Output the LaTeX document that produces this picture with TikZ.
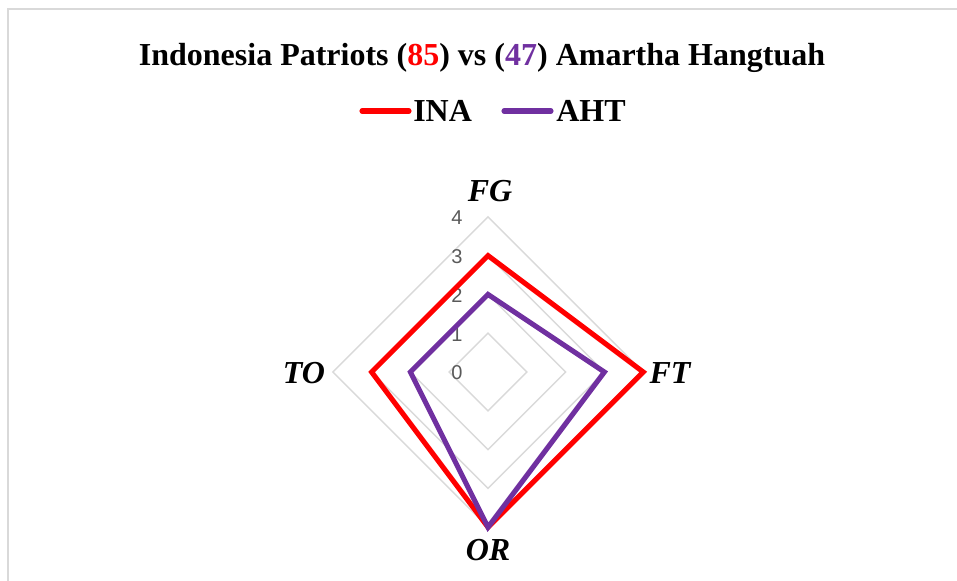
\documentclass[tikz,border=0pt]{standalone}
\usepackage{fontspec}
\usetikzlibrary{calc}
\setmainfont{Liberation Serif}
\setsansfont{Liberation Sans}
\definecolor{inared}{HTML}{FF0000}
\definecolor{ahtpurple}{HTML}{7030A0}
\definecolor{gridgray}{HTML}{D9D9D9}
\definecolor{ticktext}{HTML}{595959}
\begin{document}
\begin{tikzpicture}[x=0.75pt,y=-0.75pt,
  gridline/.style={draw=gridgray,line width=1.1pt},
  serieslineina/.style={draw=inared,line width=3.8pt,line join=miter},
  serieslineaht/.style={draw=ahtpurple,line width=3.8pt,line join=miter},
  legline/.style={line width=3.8pt,line cap=round},
  axislabel/.style={font=\fontsize{24}{27}\selectfont\bfseries\itshape},
  ticklabel/.style={font=\sffamily\fontsize{15}{17}\selectfont,text=ticktext,anchor=center},
  titletext/.style={font=\fontsize{24}{27}\selectfont\bfseries}]
\useasboundingbox (0,0) rectangle (957,581);
% outer frame
\draw[draw=gridgray,line width=1.1pt] (8,600) -- (8,9) -- (980,9);
% center and unit
\def\u{38.8}
\coordinate (c) at (488,372);
% grid rings
\foreach \r in {1,2,3,4}{
  \draw[gridline] ($(c)+(0,-\r*\u)$) -- ($(c)+(\r*\u,0)$) -- ($(c)+(0,\r*\u)$) -- ($(c)+(-\r*\u,0)$) -- cycle;
}
% tick labels
\foreach \r in {0,1,2,3,4}{
  \node[ticklabel] (t\r) at ($(c)+(-31,-\r*\u+1)$) {\r};
}
% series
\coordinate (iFG) at ($(c)+(0,-3*\u)$);
\coordinate (iFT) at ($(c)+(4*\u,0)$);
\coordinate (iOR) at ($(c)+(0,4*\u)$);
\coordinate (iTO) at ($(c)+(-3*\u,0)$);
\coordinate (aFG) at ($(c)+(0,-2*\u)$);
\coordinate (aFT) at ($(c)+(3*\u,0)$);
\coordinate (aOR) at ($(c)+(0,4*\u)$);
\coordinate (aTO) at ($(c)+(-2*\u,0)$);
\draw[serieslineina] (iFG) -- (iFT) -- (iOR) -- (iTO) -- cycle;
\draw[serieslineaht] (aFG) -- (aFT) -- (aOR) -- (aTO) -- cycle;
% axis labels
\node[axislabel] (lFG) at (490,191) {FG};
\node[axislabel] (lFT) at (670,373) {FT};
\node[axislabel] (lOR) at (488,550) {OR};
\node[axislabel] (lTO) at (304,373) {TO};
% title
\node[titletext] (title) at (482,58) {Indonesia Patriots (\textcolor{inared}{85}) vs (\textcolor{ahtpurple}{47}) Amartha Hangtuah};
% legend
\coordinate (l1a) at (362,111);
\coordinate (l1b) at (409,111);
\coordinate (l2a) at (504,111);
\coordinate (l2b) at (551,111);
\draw[legline,inared] (l1a) -- (l1b);
\draw[legline,ahtpurple] (l2a) -- (l2b);
\node[titletext,anchor=west,inner sep=0pt] (leg1) at (413,111) {INA};
\node[titletext,anchor=west,inner sep=0pt] (leg2) at (556,111) {AHT};
\end{tikzpicture}
\end{document}
